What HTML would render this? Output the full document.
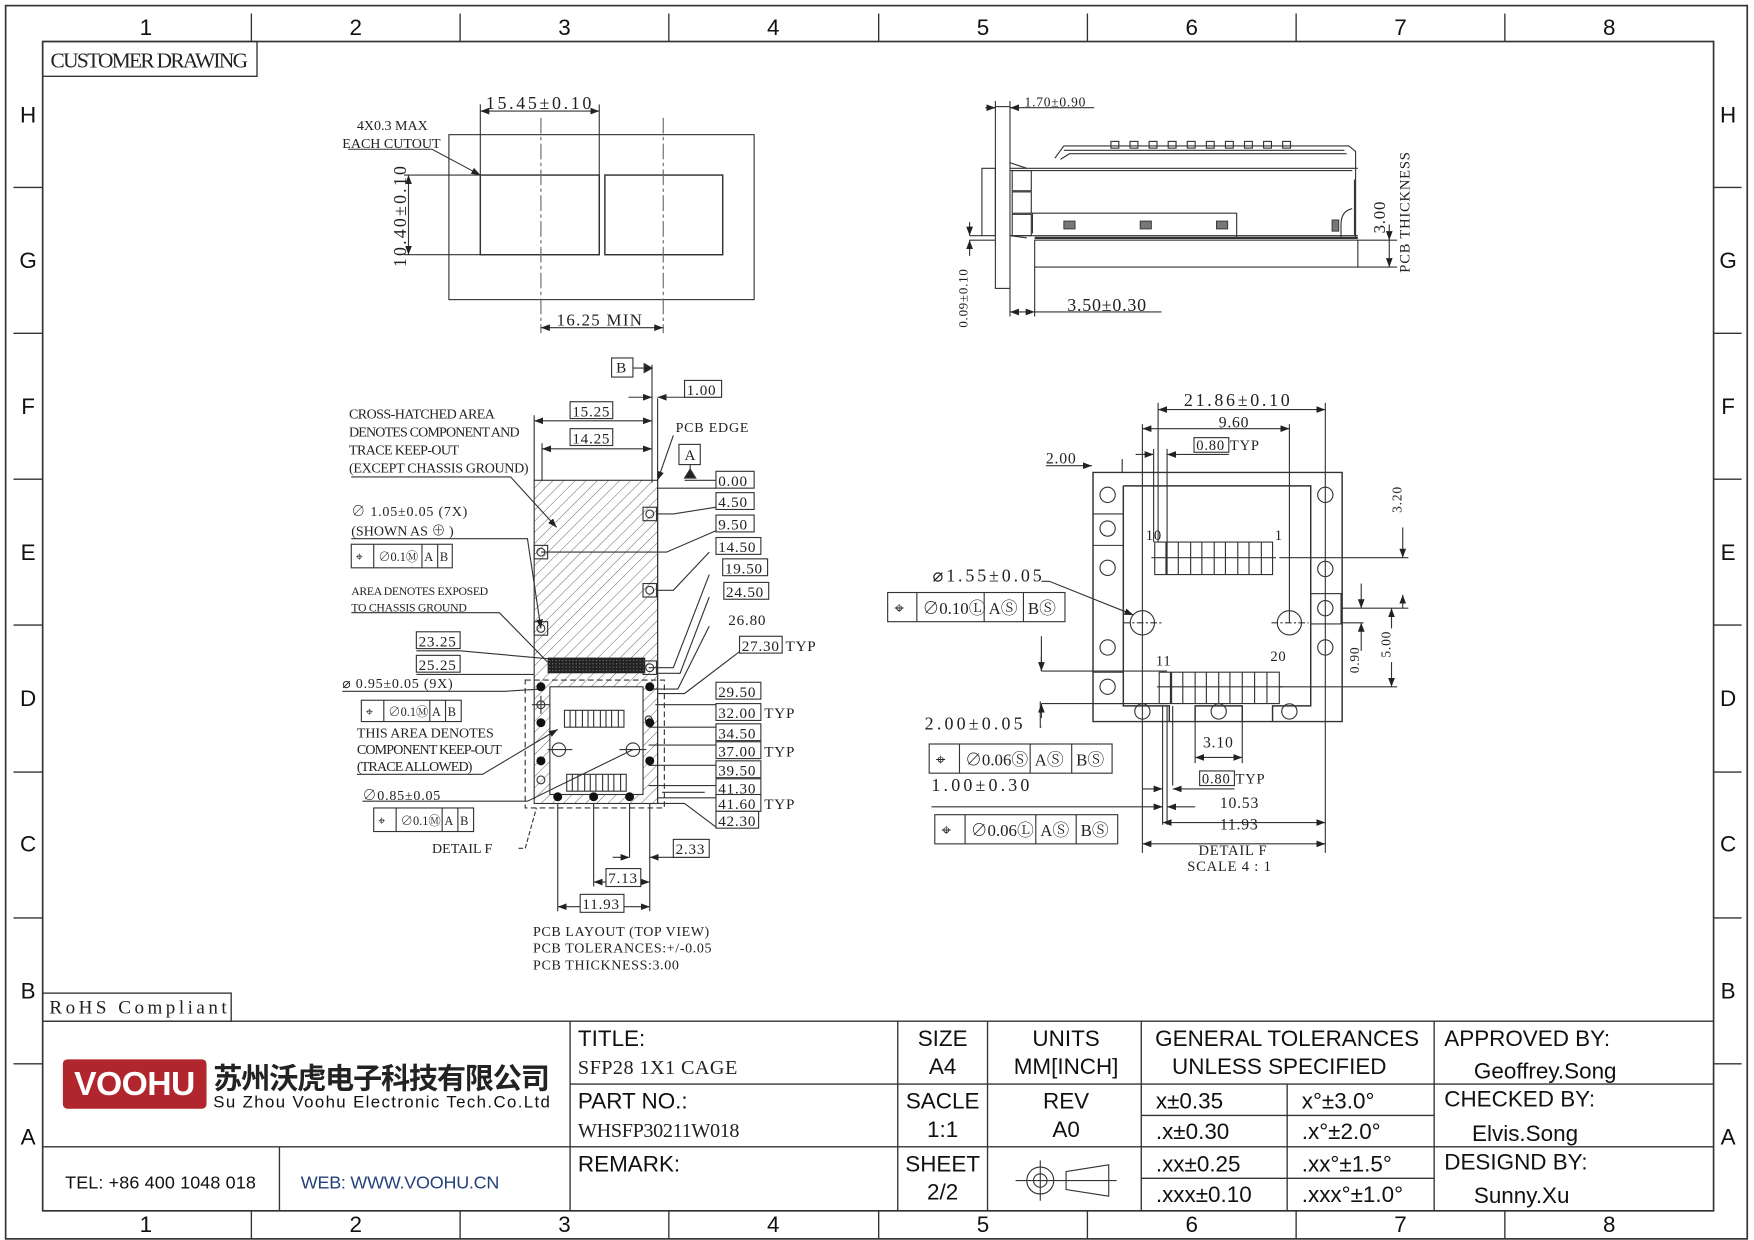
<!DOCTYPE html>
<html><head><meta charset="utf-8"><style>
html,body{margin:0;padding:0;background:#fff}
svg{display:block}
.s{font-family:"Liberation Serif","Noto Serif CJK SC",serif;fill:#222}
.dm{letter-spacing:0.7px}
.a{font-family:"Liberation Sans","Noto Sans CJK SC",sans-serif;fill:#111}
</style></head><body>
<svg width="1754" height="1240" viewBox="0 0 1563 1105" xmlns="http://www.w3.org/2000/svg">
<defs>
<pattern id="h" width="7" height="7" patternUnits="userSpaceOnUse" patternTransform="rotate(45)">
<line x1="0" y1="0" x2="0" y2="7" stroke="#555" stroke-width="0.8"/></pattern>
<pattern id="d" width="3" height="3" patternUnits="userSpaceOnUse">
<rect width="3" height="3" fill="#222"/><rect width="1" height="1" fill="#777"/></pattern>
<marker id="ar" markerWidth="8" markerHeight="6" refX="8" refY="3" orient="auto-start-reverse" markerUnits="userSpaceOnUse"><path d="M0,0 L8,3 L0,6 Z" fill="#222"/></marker>
</defs>
<g fill="none" stroke="#333" stroke-width="1.2">
<rect x="5" y="5" width="1552" height="1099" stroke-width="1.5"/>
<rect x="38" y="37" width="1489" height="1042" stroke-width="1.5"/>
<path d="M224 12V37M410 12V37M596 12V37M783 12V37M969 12V37M1155 12V37M1341 12V37"/>
<path d="M224 1079V1104M410 1079V1104M596 1079V1104M783 1079V1104M969 1079V1104M1155 1079V1104M1341 1079V1104"/>
<path d="M12 167H38M12 297H38M12 427H38M12 557H38M12 688H38M12 818H38M12 948H38"/>
<path d="M1527 167H1552M1527 297H1552M1527 427H1552M1527 557H1552M1527 688H1552M1527 818H1552M1527 948H1552"/>
<rect x="38" y="37" width="191" height="31"/>
<rect x="38" y="885" width="168" height="25"/>
<path d="M38 910H1527M508 910V1079M508 966H1527M38 1022H1527M249 1022V1079M800 910V1079M880 910V1079M1017 910V1079M1278 910V1079M1147 966V1079M1017 994H1278M1017 1050H1278"/>
</g>
<g class="a" font-size="20" text-anchor="middle">
<text x="130" y="31">1</text><text x="317" y="31">2</text><text x="503" y="31">3</text><text x="689" y="31">4</text><text x="876" y="31">5</text><text x="1062" y="31">6</text><text x="1248" y="31">7</text><text x="1434" y="31">8</text>
<text x="130" y="1098">1</text><text x="317" y="1098">2</text><text x="503" y="1098">3</text><text x="689" y="1098">4</text><text x="876" y="1098">5</text><text x="1062" y="1098">6</text><text x="1248" y="1098">7</text><text x="1434" y="1098">8</text>
<text x="25" y="109">H</text><text x="25" y="239">G</text><text x="25" y="369">F</text><text x="25" y="499">E</text><text x="25" y="629">D</text><text x="25" y="759">C</text><text x="25" y="890">B</text><text x="25" y="1020">A</text>
<text x="1540" y="109">H</text><text x="1540" y="239">G</text><text x="1540" y="369">F</text><text x="1540" y="499">E</text><text x="1540" y="629">D</text><text x="1540" y="759">C</text><text x="1540" y="890">B</text><text x="1540" y="1020">A</text>
</g>
<text class="s" x="45" y="60" font-size="19" textLength="176">CUSTOMER DRAWING</text>
<text class="s" x="44" y="903" font-size="17" textLength="158">RoHS Compliant</text>
<rect x="56" y="944" width="128" height="44" rx="4" fill="#b1252c"/>
<text x="120" y="976" font-family="Liberation Sans,sans-serif" font-weight="bold" font-size="30" fill="#fff" text-anchor="middle" textLength="108">VOOHU</text>
<text x="190" y="970" font-family="'Noto Sans CJK SC',sans-serif" font-weight="bold" font-size="26" fill="#222" textLength="300">苏州沃虎电子科技有限公司</text>
<text class="a" x="190" y="987" font-size="15" textLength="300">Su Zhou Voohu Electronic Tech.Co.Ltd</text>
<text class="a" x="58" y="1059" font-size="16" textLength="170">TEL: +86 400 1048 018</text>
<text x="268" y="1059" font-family="Liberation Sans,sans-serif" font-size="16" fill="#24427a" textLength="177">WEB: WWW.VOOHU.CN</text>
<g class="a" font-size="20">
<text x="515" y="932">TITLE:</text>
<text x="515" y="988">PART NO.:</text>
<text x="515" y="1044">REMARK:</text>
<text x="1287" y="932">APPROVED BY:</text>
<text x="1287" y="986">CHECKED BY:</text>
<text x="1287" y="1042">DESIGND BY:</text>
</g>
<text class="s" x="515" y="957" font-size="18" textLength="142">SFP28 1X1 CAGE</text>
<text class="s" x="515" y="1013" font-size="18" textLength="144">WHSFP30211W018</text>
<g class="a" font-size="20" text-anchor="middle">
<text x="840" y="932">SIZE</text><text x="840" y="957">A4</text>
<text x="840" y="988">SACLE</text><text x="840" y="1013">1:1</text>
<text x="840" y="1044">SHEET</text><text x="840" y="1069">2/2</text>
<text x="950" y="932">UNITS</text><text x="950" y="957">MM[INCH]</text>
<text x="950" y="988">REV</text><text x="950" y="1013">A0</text>
<text x="1147" y="932">GENERAL TOLERANCES</text><text x="1140" y="957">UNLESS SPECIFIED</text>
<text x="1377" y="961">Geoffrey.Song</text>
<text x="1359" y="1017">Elvis.Song</text>
<text x="1356" y="1072">Sunny.Xu</text>
</g>
<g class="a" font-size="20">
<text x="1030" y="988">x±0.35</text><text x="1160" y="988">x°±3.0°</text>
<text x="1030" y="1015">.x±0.30</text><text x="1160" y="1015">.x°±2.0°</text>
<text x="1030" y="1044">.xx±0.25</text><text x="1160" y="1044">.xx°±1.5°</text>
<text x="1030" y="1071">.xxx±0.10</text><text x="1160" y="1071">.xxx°±1.0°</text>
</g>
<g fill="none" stroke="#333" stroke-width="1">
<circle cx="927" cy="1052" r="12"/><circle cx="927" cy="1052" r="6"/>
<path d="M905 1052H995M927 1034V1070M950 1044L988 1038V1066L950 1060Z"/>
</g>

<!-- top-left cutout view -->
<g fill="none" stroke="#333" stroke-width="1">
<rect x="400" y="120" width="272" height="147"/>
<rect x="428" y="156" width="106" height="71" stroke-width="1.3"/>
<rect x="539" y="156" width="105" height="71" stroke-width="1.3"/>
<path d="M482 105V297M591 105V297" stroke-dasharray="14 3 3 3" stroke="#666"/>
<path d="M428 93V156M534 93V156M360 156H428M360 227H428"/>
<path d="M428 99H534" marker-start="url(#ar)" marker-end="url(#ar)"/>
<path d="M364 156V227" marker-start="url(#ar)" marker-end="url(#ar)"/>
<path d="M482 292H591" marker-start="url(#ar)" marker-end="url(#ar)"/>
<path d="M310 133H385L428 156" marker-end="url(#ar)"/>
</g>
<g class="s" font-size="14">
<text x="433" y="97" font-size="16" textLength="94">15.45±0.10</text>
<text x="318" y="116" font-size="12.5">4X0.3 MAX</text>
<text x="305" y="132" font-size="12.5">EACH CUTOUT</text>
<text x="496" y="290" font-size="15" textLength="76">16.25 MIN</text>
<text transform="translate(362 238) rotate(-90)" font-size="16" textLength="90">10.40±0.10</text>
</g>

<!-- top-right side view -->
<g fill="none" stroke="#333" stroke-width="1">
<rect x="887" y="95" width="13" height="162"/>
<rect x="922" y="214" width="288" height="24"/>
<rect x="875" y="150" width="12" height="60"/>
<path d="M900 150H1210M900 152H1205M900 210H1210"/>
<path d="M900 145L915 150M900 210L915 212"/>
<rect x="902" y="152" width="17" height="18"/><rect x="902" y="171" width="17" height="19"/><rect x="902" y="191" width="17" height="19"/>
<path d="M940 141L948 130H1202L1208 135V212M948 134H1198M945 142L953 137H1200"/>
<path d="M920 208V190H1102V212"/>
<path d="M1195 212V200Q1195 188 1205 186"/>
<path d="M1207 160V210"/>
</g>
<g fill="#777" stroke="#333" stroke-width="0.8">
<rect x="948" y="197" width="10" height="7"/><rect x="1016" y="197" width="10" height="7"/><rect x="1084" y="197" width="10" height="7"/>
<rect x="1187" y="196" width="6" height="10"/>
</g>
<g fill="none" stroke="#333" stroke-width="1">
<rect x="990" y="126" width="7" height="6"/><rect x="1007" y="126" width="7" height="6"/><rect x="1024" y="126" width="7" height="6"/><rect x="1041" y="126" width="7" height="6"/><rect x="1058" y="126" width="7" height="6"/><rect x="1075" y="126" width="7" height="6"/><rect x="1092" y="126" width="7" height="6"/><rect x="1109" y="126" width="7" height="6"/><rect x="1126" y="126" width="7" height="6"/><rect x="1143" y="126" width="7" height="6"/>
<path d="M922 212H1210" stroke-width="2"/>
<path d="M887 90V95M900 90V95M878 96H887M900 96H975" />
<path d="M883 96H887" marker-end="url(#ar)"/><path d="M905 96H900" marker-end="url(#ar)"/>
<path d="M900 257V282M922 238V282"/>
<path d="M900 278H922" marker-start="url(#ar)" marker-end="url(#ar)"/>
<path d="M922 278H1035"/>
<path d="M864 214H887M864 210H875"/>
<path d="M864 198V210" marker-end="url(#ar)"/><path d="M864 228V214" marker-end="url(#ar)"/>
<path d="M1210 214H1245M1210 238H1245"/>
<path d="M1238 200V214" marker-end="url(#ar)"/><path d="M1238 238V214" marker-start="url(#ar)"/>
</g>
<g class="s dm">
<text x="913" y="95" font-size="12">1.70±0.90</text>
<text x="951" y="277" font-size="16">3.50±0.30</text>
<text transform="translate(862 292) rotate(-90)" font-size="11.5">0.09±0.10</text>
<text transform="translate(1234 208) rotate(-90)" font-size="15">3.00</text>
<text transform="translate(1256 243) rotate(-90)" font-size="13">PCB  THICKNESS</text>
</g>

<!-- PCB layout -->
<rect x="476" y="428" width="110" height="288" fill="url(#h)"/>
<rect x="490" y="612" width="83" height="96" fill="#fff"/>
<rect x="488" y="586" width="87" height="14" fill="url(#d)"/>
<g fill="none" stroke="#333" stroke-width="1">
<rect x="476" y="428" width="110" height="288"/>
<rect x="490" y="612" width="83" height="96"/>
<rect x="468" y="606" width="124" height="114" stroke-dasharray="5 3"/>
<path d="M581 325V430"/>
<path d="M586 355V716"/>
<path d="M476 370V428M483 395V428"/>
<path d="M476 375H581" marker-start="url(#ar)" marker-end="url(#ar)"/>
<path d="M483 400H581" marker-start="url(#ar)" marker-end="url(#ar)"/>
<path d="M560 354H581" marker-end="url(#ar)"/><path d="M606 354H586" marker-end="url(#ar)"/><path d="M606 354H643"/>
<path d="M564 328H581"/>
<path d="M581 328L574 324V332Z" fill="#222"/>
<path d="M615 414V425M610 428H638" /><path d="M610 426L615 418L620 426Z" fill="#222"/>
<path d="M600 388L586 428" marker-end="url(#ar)"/>
<rect x="573" y="452" width="12" height="12"/><circle cx="579" cy="458" r="3.5"/>
<rect x="573" y="520" width="12" height="12"/><circle cx="579" cy="526" r="3.5"/>
<rect x="573" y="589" width="12" height="12"/><circle cx="579" cy="595" r="3.5"/>
<rect x="476" y="486" width="12" height="12"/><circle cx="482" cy="492" r="3.5"/>
<rect x="476" y="554" width="12" height="12"/><circle cx="482" cy="560" r="3.5"/>
<circle cx="482" cy="628" r="3.5"/><path d="M474 628H490M482 620V636"/>
<circle cx="482" cy="695" r="3.5"/>
<circle cx="578" cy="641" r="3"/>
<circle cx="498" cy="668" r="6"/><circle cx="564" cy="668" r="6"/>
<path d="M488 668H510M552 668H576"/>
<path d="M503 633H556V648H503ZM508 633V648M513 633V648M519 633V648M524 633V648M529 633V648M535 633V648M540 633V648M545 633V648M551 633V648"/>
<path d="M505 690H558V705H505ZM510 690V705M515 690V705M521 690V705M526 690V705M531 690V705M537 690V705M542 690V705M547 690V705M553 690V705"/>
<path d="M586 435H638M585 458H600L638 452M482 492H594L638 473M585 526H600L632 492M578 595H600L632 512M586 600H606L632 532M578 614H604L632 558M586 618H610L660 580M584 628H638M578 648H638M578 664H638M578 682H638M578 700H638M586 711H638M586 716H610L638 737"/>
<path d="M590 706H628"/>
<path d="M313 425H455L496 470" marker-end="url(#ar)"/>
<path d="M313 480H470L482 560" marker-end="url(#ar)"/>
<path d="M313 546H445L488 590"/>
<path d="M371 580H410L488 587M371 601H476"/>
<path d="M305 616H450L482 614"/>
<path d="M318 690H430L497 650" marker-end="url(#ar)"/>
<path d="M323 714H470L564 668"/>
<path d="M462 756H468L478 720" stroke-dasharray="4 2"/>
<path d="M497 716V812M529 716V790M561 716V764M579 716V812"/>
<path d="M497 808H579" marker-start="url(#ar)" marker-end="url(#ar)"/>
<path d="M529 786H579" marker-start="url(#ar)" marker-end="url(#ar)"/>
<path d="M546 764H561" marker-end="url(#ar)"/><path d="M594 764H579" marker-end="url(#ar)"/><path d="M594 764H632"/>
</g>
<g fill="#111">
<circle cx="482" cy="612" r="4"/><circle cx="482" cy="644" r="4"/><circle cx="482" cy="678" r="4"/>
<circle cx="579" cy="612" r="4"/><circle cx="579" cy="644" r="4"/><circle cx="579" cy="678" r="4"/>
<circle cx="497" cy="710" r="4"/><circle cx="529" cy="710" r="4"/><circle cx="561" cy="710" r="4"/>
</g>
<g fill="#fff" stroke="#333" stroke-width="1">
<rect x="545" y="319" width="19" height="17"/><rect x="610" y="339" width="33" height="15"/>
<rect x="508" y="358" width="38" height="15"/><rect x="508" y="382" width="38" height="15"/>
<rect x="605" y="396" width="19" height="18"/>
<rect x="638" y="420" width="34" height="15"/><rect x="638" y="439" width="34" height="15"/><rect x="638" y="459" width="34" height="15"/>
<rect x="638" y="479" width="40" height="15"/><rect x="644" y="498" width="40" height="15"/><rect x="645" y="519" width="40" height="15"/>
<rect x="659" y="567" width="38" height="15"/>
<rect x="638" y="608" width="40" height="15"/><rect x="638" y="627" width="40" height="15"/><rect x="638" y="645" width="40" height="15"/>
<rect x="638" y="661" width="40" height="15"/><rect x="638" y="678" width="40" height="15"/><rect x="638" y="694" width="40" height="15"/>
<rect x="638" y="708" width="40" height="15"/><rect x="638" y="723" width="38" height="15"/>
<rect x="371" y="563" width="39" height="15"/><rect x="371" y="584" width="39" height="15"/>
<rect x="600" y="748" width="32" height="16"/><rect x="540" y="774" width="31" height="16"/><rect x="517" y="797" width="39" height="16"/>
</g>
<g class="s dm" font-size="13.5">
<text x="549" y="332">B</text><text x="610" y="410">A</text>
<text x="612" y="352">1.00</text>
<text x="510" y="371">15.25</text><text x="510" y="395">14.25</text>
<text x="640" y="433">0.00</text><text x="640" y="452">4.50</text><text x="640" y="472">9.50</text>
<text x="640" y="492">14.50</text><text x="646" y="511">19.50</text><text x="647" y="532">24.50</text>
<text x="649" y="557">26.80</text><text x="661" y="580">27.30</text><text x="700" y="580">TYP</text>
<text x="640" y="621">29.50</text><text x="640" y="640">32.00</text><text x="681" y="640">TYP</text>
<text x="640" y="658">34.50</text><text x="640" y="674">37.00</text><text x="681" y="674">TYP</text>
<text x="640" y="691">39.50</text><text x="640" y="707">41.30</text>
<text x="640" y="721">41.60</text><text x="681" y="721">TYP</text><text x="640" y="736">42.30</text>
<text x="373" y="576">23.25</text><text x="373" y="597">25.25</text>
<text x="602" y="761">2.33</text><text x="542" y="787">7.13</text><text x="519" y="810">11.93</text>
<text x="602" y="385" font-size="12.5">PCB EDGE</text>
</g>
<g class="s" font-size="12.5">
<text x="311" y="373" textLength="130">CROSS-HATCHED AREA</text>
<text x="311" y="389" textLength="152">DENOTES COMPONENT AND</text>
<text x="311" y="405" textLength="98">TRACE KEEP-OUT</text>
<text x="311" y="421" textLength="160">(EXCEPT CHASSIS GROUND)</text>
<text x="313" y="460" class="dm">∅ 1.05±0.05 (7X)</text>
<text x="313" y="477">(SHOWN AS ⊕ )</text>
<text x="313" y="530" font-size="10.5" textLength="122">AREA DENOTES EXPOSED</text>
<text x="313" y="545" font-size="10.5" textLength="103">TO CHASSIS GROUND</text>
<text x="305" y="613" class="dm">⌀ 0.95±0.05 (9X)</text>
<text x="318" y="657" textLength="122">THIS AREA DENOTES</text>
<text x="318" y="672" textLength="129">COMPONENT KEEP-OUT</text>
<text x="318" y="687" textLength="103">(TRACE ALLOWED)</text>
<text x="323" y="713" class="dm">∅0.85±0.05</text>
<text x="385" y="760">DETAIL F</text>
<text x="475" y="834" textLength="157">PCB LAYOUT  (TOP VIEW)</text>
<text x="475" y="849" textLength="159">PCB TOLERANCES:+/-0.05</text>
<text x="475" y="864" textLength="130">PCB THICKNESS:3.00</text>
</g>
<g fill="none" stroke="#333" stroke-width="1">
<rect x="313" y="485" width="90" height="21"/><path d="M333 485V506M376 485V506M390 485V506"/>
<rect x="322" y="624" width="89" height="19"/><path d="M342 624V643M383 624V643M397 624V643"/>
<rect x="333" y="720" width="89" height="21"/><path d="M353 720V741M394 720V741M408 720V741"/>
</g>
<g class="s" font-size="11" fill="#555">
<text x="317" y="500">⌖</text><text x="337" y="500">∅0.1Ⓜ</text><text x="378" y="500">A</text><text x="392" y="500">B</text>
<text x="326" y="638">⌖</text><text x="346" y="638">∅0.1Ⓜ</text><text x="385" y="638">A</text><text x="399" y="638">B</text>
<text x="337" y="735">⌖</text><text x="357" y="735">∅0.1Ⓜ</text><text x="396" y="735">A</text><text x="410" y="735">B</text>
</g>

<!-- Detail F -->
<g fill="none" stroke="#333" stroke-width="1.3">
<path d="M974 421H1196V643H974Z"/>
<path d="M1001 433H1168V629H1134V643M1001 433V629H1042V643M1065 643V629H1107V643"/>
</g>
<g fill="none" stroke="#333" stroke-width="1">
<path d="M974 458H1001M974 486H1001M974 599H1001M974 627H1001"/>
<rect x="1168" y="529" width="27" height="27"/>
<circle cx="987" cy="441" r="6.8"/><circle cx="987" cy="471" r="6.8"/><circle cx="987" cy="506" r="6.8"/><circle cx="987" cy="577" r="6.8"/><circle cx="987" cy="612" r="6.8"/>
<circle cx="1181" cy="441" r="6.8"/><circle cx="1181" cy="507" r="6.8"/><circle cx="1181" cy="542" r="6.8"/><circle cx="1181" cy="577" r="6.8"/>
<circle cx="1018" cy="634" r="6.8"/><circle cx="1086" cy="634" r="6.8"/><circle cx="1149" cy="634" r="6.8"/>
<circle cx="1018" cy="555" r="10.8"/><circle cx="1149" cy="555" r="10.8"/>
<path d="M1001 555H1035M1133 555H1166" stroke-dasharray="6 2 2 2"/>
<path d="M1029 483H1134V512H1029ZM1039 483V512M1040 483V512M1050 483V512M1061 483V512M1071 483V512M1082 483V512M1092 483V512M1103 483V512M1113 483V512M1124 483V512M1026 497H1137"/>
<path d="M1033 599H1140V627H1033ZM1043 599V627M1044 599V627M1054 599V627M1065 599V627M1075 599V627M1086 599V627M1096 599V627M1107 599V627M1118 599V627M1129 599V627M1031 612H1143"/>
<path d="M1032 359V483M1018 378V760M1149 378V555M1181 359V760M1040 400V483M1028 400V483M1000 409V421M1040 629V735M1036 629V735M1045 629V700M1065 643V680M1107 643V680"/>
<path d="M1032 365H1181" marker-start="url(#ar)" marker-end="url(#ar)"/>
<path d="M1018 382H1149" marker-start="url(#ar)" marker-end="url(#ar)"/>
<path d="M1012 405H1028" marker-end="url(#ar)"/><path d="M1052 405H1040" marker-end="url(#ar)"/><path d="M1052 405H1095"/>
<path d="M932 415H973" marker-end="url(#ar)"/>
<path d="M1065 675H1107" marker-start="url(#ar)" marker-end="url(#ar)"/>
<path d="M1018 703H1036" marker-end="url(#ar)"/><path d="M1060 703H1045" marker-end="url(#ar)"/><path d="M1060 703H1100"/>
<path d="M830 719H1036" marker-end="url(#ar)"/><path d="M1065 719H1040" marker-end="url(#ar)"/>
<path d="M1036 733H1181" marker-start="url(#ar)" marker-end="url(#ar)"/>
<path d="M1018 752H1181" marker-start="url(#ar)" marker-end="url(#ar)"/>
<path d="M928 518H935L1010 548" marker-end="url(#ar)"/>
<path d="M928 648H927V625M928 567V598" />
<path d="M928 585V598" marker-end="url(#ar)"/><path d="M928 640V627" marker-end="url(#ar)"/>
<path d="M928 598H1040M928 627H1040"/>
<path d="M1140 497H1255M1196 542H1255M1196 555H1215M1140 612H1245"/>
<path d="M1250 470V497" marker-end="url(#ar)"/><path d="M1250 530V542" marker-start="url(#ar)"/>
<path d="M1240 560V542" marker-end="url(#ar)"/><path d="M1240 590V612" marker-end="url(#ar)"/>
<path d="M1213 520V542" marker-end="url(#ar)"/><path d="M1213 580V555" marker-end="url(#ar)"/>
<rect x="791" y="528" width="158" height="26"/><path d="M817 528V554M877 528V554M912 528V554"/>
<rect x="828" y="663" width="163" height="26"/><path d="M855 663V689M918 663V689M955 663V689"/>
<rect x="833" y="726" width="163" height="26"/><path d="M860 726V752M923 726V752M959 726V752"/>
<rect x="1064" y="390" width="31" height="13" fill="#fff"/>
<rect x="1069" y="687" width="31" height="13" fill="#fff"/>
</g>
<g class="s dm" font-size="16" fill="#222">
<text x="1055" y="362" textLength="95">21.86±0.10</text>
<text x="1086" y="381" font-size="14">9.60</text>
<text x="1066" y="401" font-size="13">0.80</text><text x="1096" y="401" font-size="13">TYP</text>
<text x="932" y="413" font-size="14">2.00</text>
<text x="831" y="518" textLength="98">⌀1.55±0.05</text>
<text x="824" y="650" textLength="88">2.00±0.05</text>
<text x="830" y="705" textLength="88">1.00±0.30</text>
<text x="1072" y="666" font-size="14">3.10</text>
<text x="1071" y="698" font-size="13">0.80</text><text x="1101" y="698" font-size="13">TYP</text>
<text x="1087" y="720" font-size="14">10.53</text>
<text x="1087" y="739" font-size="14">11.93</text>
<text x="1068" y="762" font-size="13">DETAIL F</text>
<text x="1058" y="776" font-size="13">SCALE 4 : 1</text>
<text x="1021" y="481" font-size="13">10</text><text x="1136" y="481" font-size="13">1</text>
<text x="1030" y="593" font-size="13">11</text><text x="1132" y="589" font-size="13">20</text>
<text transform="translate(1249 457) rotate(-90)" font-size="12">3.20</text>
<text transform="translate(1239 586) rotate(-90)" font-size="12">5.00</text>
<text transform="translate(1211 600) rotate(-90)" font-size="12">0.90</text>
</g>
<g class="s" font-size="15" fill="#666">
<text x="797" y="547">⌖</text><text x="822" y="547">∅0.10Ⓛ</text><text x="881" y="547">AⓈ</text><text x="916" y="547">BⓈ</text>
<text x="834" y="682">⌖</text><text x="860" y="682">∅0.06Ⓢ</text><text x="922" y="682">AⓈ</text><text x="959" y="682">BⓈ</text>
<text x="839" y="745">⌖</text><text x="865" y="745">∅0.06Ⓛ</text><text x="927" y="745">AⓈ</text><text x="963" y="745">BⓈ</text>
</g>
</svg>
</body></html>
